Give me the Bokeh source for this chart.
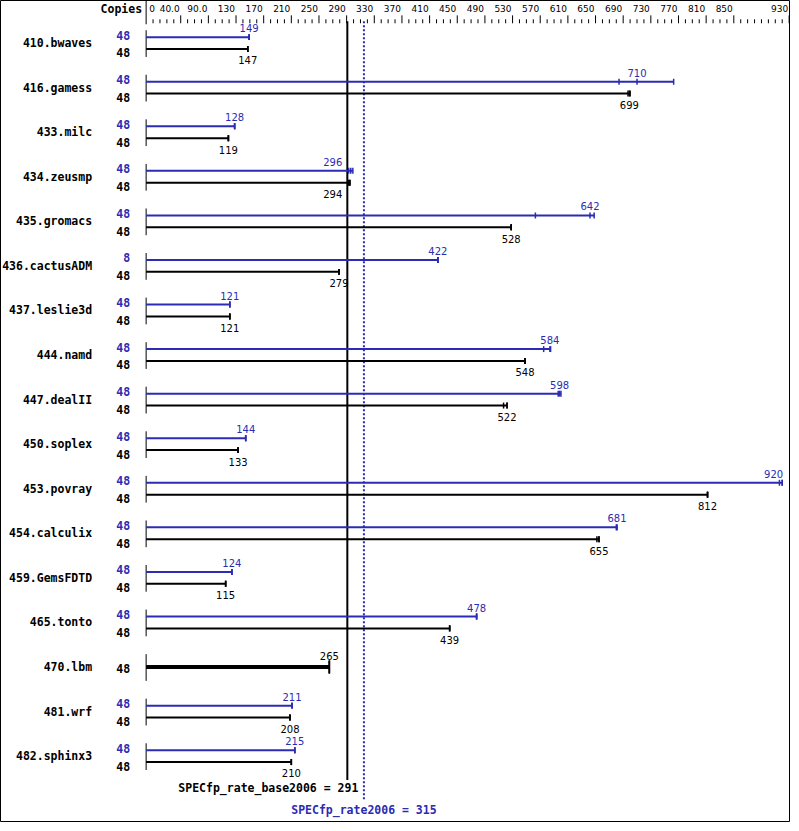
from bokeh.plotting import figure
from bokeh.models import Range1d
from bokeh.core.properties import value
from bokeh.embed import file_html
from bokeh.resources import INLINE

benchmarks = ["410.bwaves", "416.gamess", "433.milc", "434.zeusmp", "435.gromacs",
              "436.cactusADM", "437.leslie3d", "444.namd", "447.dealII", "450.soplex",
              "453.povray", "454.calculix", "459.GemsFDTD", "465.tonto", "470.lbm",
              "481.wrf", "482.sphinx3"]
base_copies = [48, 48, 48, 48, 48, 48, 48, 48, 48, 48, 48, 48, 48, 48, 48, 48, 48]
peak_copies = [48, 48, 48, 48, 48, 8, 48, 48, 48, 48, 48, 48, 48, 48, None, 48, 48]
base_ratio = [147, 699, 119, 294, 528, 279, 121, 548, 522, 133, 812, 655, 115, 439, 265, 208, 210]
peak_ratio = [149, 710, 128, 296, 642, 422, 121, 584, 598, 144, 920, 681, 124, 478, None, 211, 215]
base_runs = [[147, 147, 147], [697, 699, 700], [119, 119, 119], [293, 294, 295],
             [528, 528, 528], [279, 279, 279], [121, 121, 121], [548, 548, 548],
             [517, 522, 522], [133, 133, 133], [812, 812, 812], [652, 655, 655],
             [115, 115, 115], [439, 439, 439], [265, 265, 265], [208, 208, 208],
             [210, 210, 210]]
peak_runs = [[149, 149, 149], [684, 710, 763], [128, 128, 128], [293, 296, 299],
             [563, 642, 648], [422, 422, 422], [121, 121, 121], [575, 584, 585],
             [596, 598, 600], [144, 144, 144], [916, 920, 920], [680, 681, 681],
             [124, 124, 124], [478, 478, 478], [], [211, 211, 211], [215, 215, 215]]
base_score = 291
peak_score = 315
axis_tick_values = [0, 50, 90, 130, 170, 210, 250, 290, 330, 370, 410, 450, 490, 530,
                    570, 610, 650, 690, 730, 770, 810, 850, 930]
axis_tick_labels = ["0", "40.0", "90.0", "130", "170", "210", "250", "290", "330", "370",
                    "410", "450", "490", "530", "570", "610", "650", "690", "730", "770",
                    "810", "850", "930"]

BLUE = "#2b2bb3"
BLACK = "#000000"
MONO = value("DejaVu Sans Mono")
SANS = value("DejaVu Sans")
ROW0, STEP = 44, 45
AXIS_MAX = 930

p = figure(width=790, height=822, x_range=Range1d(-210.65, 932), y_range=Range1d(830, 0),
           output_backend="svg", toolbar_location=None, min_border=0,
           x_axis_location=None, y_axis_location=None)
p.grid.visible = False
p.outline_line_color = "black"
p.outline_line_width = 1
p.background_fill_color = "white"
p.border_fill_color = "white"


def value_label(x, y, txt, color):
    # place a value label, shifting it away from the score line and the right edge
    if abs(x - base_score) < 12:
        p.text(x=[base_score], y=[y], text=[txt], text_font=SANS, text_font_size="10px",
               text_align="right", text_baseline="middle", x_offset=-5, text_color=color)
    elif x > AXIS_MAX - 20:
        p.text(x=[x], y=[y], text=[txt], text_font=SANS, text_font_size="10px",
               text_align="right", text_baseline="middle", x_offset=1, text_color=color)
    else:
        p.text(x=[x], y=[y], text=[txt], text_font=SANS, text_font_size="10px",
               text_align="center", text_baseline="middle", text_color=color)


# header
p.text(x=[0], y=[9], text=["Copies"], text_font=MONO, text_font_style="bold",
       text_font_size="11.5px", text_align="right", text_baseline="middle",
       x_offset=-4, text_color=BLACK)
p.segment(x0=[0], y0=[0], x1=[0], y1=[24], line_color=BLACK, line_width=1)
minor = [v for v in range(10, AXIS_MAX, 10) if v not in axis_tick_values]
p.segment(x0=minor, y0=[19] * len(minor), x1=minor, y1=[23] * len(minor),
          line_color=BLACK, line_width=1)
maj = axis_tick_values[1:]
p.segment(x0=maj, y0=[15] * len(maj), x1=maj, y1=[23] * len(maj),
          line_color=BLACK, line_width=1)
p.text(x=[axis_tick_values[0]], y=[8], text=[axis_tick_labels[0]], text_font=SANS,
       text_font_size="9px", text_align="left", text_baseline="middle", x_offset=3)
p.text(x=axis_tick_values[1:], y=[8] * len(maj), text=axis_tick_labels[1:], text_font=SANS,
       text_font_size="9px", text_align="right", text_baseline="middle", x_offset=-1)

# reference lines
p.segment(x0=[base_score], y0=[21], x1=[base_score], y1=[787], line_color=BLACK, line_width=2)
p.segment(x0=[peak_score], y0=[21], x1=[peak_score], y1=[808], line_color=BLUE,
          line_width=2, line_dash="2 2")
p.text(x=[base_score], y=[795], text=["SPECfp_rate_base2006 = %d" % base_score],
       text_font=MONO, text_font_style="bold", text_font_size="11.5px",
       text_align="right", text_baseline="middle", x_offset=11, text_color=BLACK)
p.text(x=[peak_score], y=[817], text=["SPECfp_rate2006 = %d" % peak_score],
       text_font=MONO, text_font_style="bold", text_font_size="11.5px",
       text_align="center", text_baseline="middle", text_color=BLUE)

for i, name in enumerate(benchmarks):
    c = ROW0 + STEP * i
    p.segment(x0=[0], y0=[c - 14], x1=[0], y1=[c + 13], line_color=BLACK, line_width=1)
    p.text(x=[0], y=[c - 1], text=[name], text_font=MONO, text_font_style="bold",
           text_font_size="11.5px", text_align="right", text_baseline="middle",
           x_offset=-54, text_color=BLACK)
    single = peak_ratio[i] is None
    if not single:
        by = c - 7
        runs = peak_runs[i]
        p.segment(x0=[0], y0=[by], x1=[max(runs)], y1=[by], line_color=BLUE, line_width=2)
        p.segment(x0=runs, y0=[by - 3] * len(runs), x1=runs, y1=[by + 3] * len(runs),
                  line_color=BLUE, line_width=1.5)
        value_label(peak_ratio[i], by - 9, str(peak_ratio[i]), BLUE)
        p.text(x=[0], y=[c - 9], text=[str(peak_copies[i])], text_font=MONO,
               text_font_style="bold", text_font_size="11.5px", text_align="right",
               text_baseline="middle", x_offset=-16, text_color=BLUE)
        yb = c + 5
        runs = base_runs[i]
        p.segment(x0=[0], y0=[yb], x1=[max(runs)], y1=[yb], line_color=BLACK, line_width=2)
        p.segment(x0=runs, y0=[yb - 3] * len(runs), x1=runs, y1=[yb + 3] * len(runs),
                  line_color=BLACK, line_width=1.5)
        value_label(base_ratio[i], yb + 11.5, str(base_ratio[i]), BLACK)
        p.text(x=[0], y=[c + 9], text=[str(base_copies[i])], text_font=MONO,
               text_font_style="bold", text_font_size="11.5px", text_align="right",
               text_baseline="middle", x_offset=-16, text_color=BLACK)
    else:
        yb = c - 1
        runs = base_runs[i]
        p.segment(x0=[0], y0=[yb], x1=[max(runs)], y1=[yb], line_color=BLACK, line_width=4)
        p.segment(x0=runs, y0=[yb - 6.5] * len(runs), x1=runs, y1=[yb + 6.5] * len(runs),
                  line_color=BLACK, line_width=1.5)
        value_label(base_ratio[i], yb - 11, str(base_ratio[i]), BLACK)
        p.text(x=[0], y=[c], text=[str(base_copies[i])], text_font=MONO,
               text_font_style="bold", text_font_size="11.5px", text_align="right",
               text_baseline="middle", x_offset=-16, text_color=BLACK)

open("out.html", "w").write(file_html(p, INLINE))
